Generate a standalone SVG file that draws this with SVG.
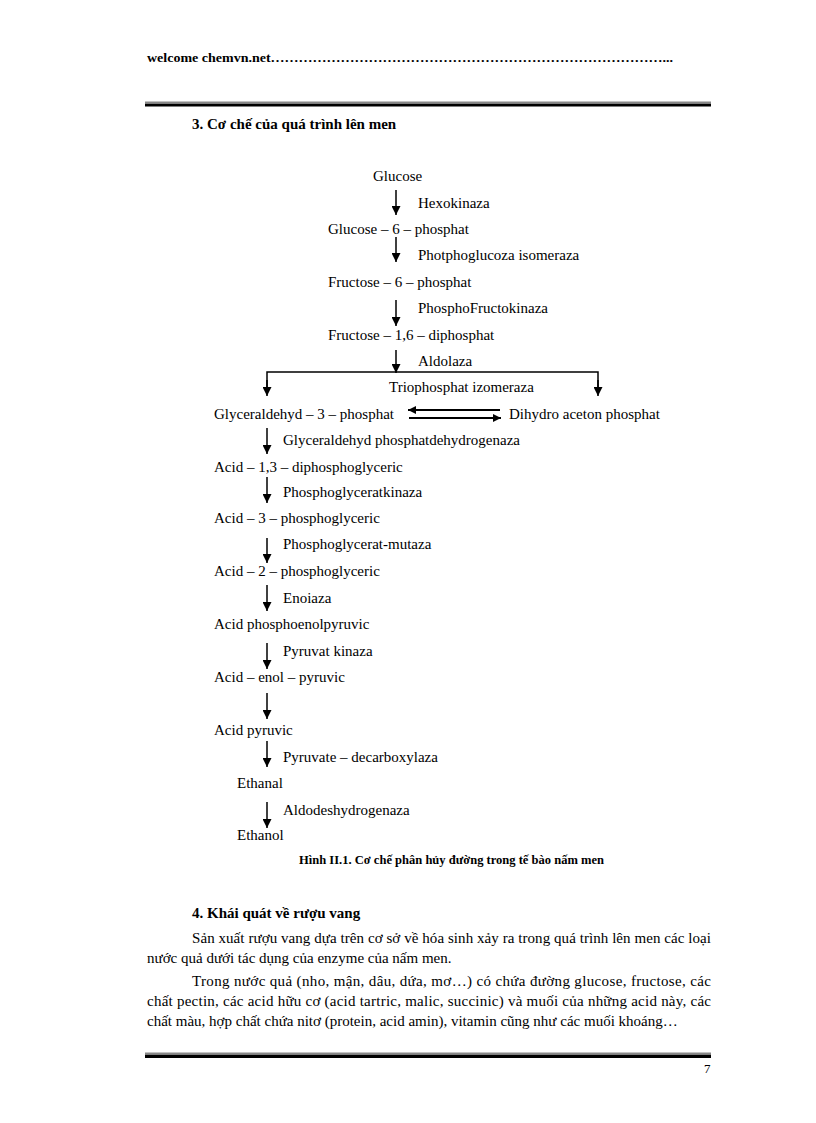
<svg xmlns="http://www.w3.org/2000/svg" width="816" height="1123" viewBox="0 0 816 1123">
<defs>
<style>
text{font-family:"Liberation Serif","Times New Roman",serif;fill:#000;}
.t{font-size:15px;}
.b{font-weight:bold;}
.ln{stroke:#000;stroke-width:1.5;fill:none;}
.ar{stroke:#000;stroke-width:1.5;fill:none;marker-end:url(#ah);}
.dar{stroke:#000;stroke-width:2;fill:none;marker-end:url(#ah2);}
</style>
<marker id="ah" viewBox="0 0 10 10" refX="10" refY="5" markerWidth="10" markerHeight="9" markerUnits="userSpaceOnUse" orient="auto"><path d="M0,0 L10,5 L0,10 z" fill="#000"/></marker>
<marker id="ah2" viewBox="0 0 10 10" refX="10" refY="5" markerWidth="11" markerHeight="8" markerUnits="userSpaceOnUse" orient="auto"><path d="M0,0 L10,5 L0,10 z" fill="#000"/></marker>
</defs>
<rect width="816" height="1123" fill="#fff"/>
<!-- header -->
<text x="147" y="62" class="b" font-size="13.5" textLength="526" lengthAdjust="spacingAndGlyphs">welcome chemvn.net…………………………………………………………………………...</text>
<rect x="145" y="101.5" width="566" height="1.5" fill="#888"/>
<rect x="145" y="103.5" width="566" height="3" fill="#000"/>
<text x="192" y="129" class="t b">3. Cơ chế của quá trình lên men</text>

<g id="connectors">
<line class="ar" x1="396" y1="190" x2="396" y2="215"/>
<line class="ar" x1="396" y1="237" x2="396" y2="262"/>
<line class="ar" x1="396" y1="300" x2="396" y2="326"/>
<line class="ar" x1="396" y1="350" x2="396" y2="373"/>
<polyline class="ln" points="267,390 267,372 598,372 598,390"/>
<line class="ar" x1="267" y1="380" x2="267" y2="396"/>
<line class="ar" x1="598" y1="380" x2="598" y2="396"/>
<line class="dar" x1="500" y1="410" x2="408" y2="410"/>
<line class="dar" x1="409" y1="418" x2="501" y2="418"/>
<line class="ar" x1="267" y1="428" x2="267" y2="454"/>
<line class="ar" x1="267" y1="477" x2="267" y2="503"/>
<line class="ar" x1="267" y1="538" x2="267" y2="563"/>
<line class="ar" x1="267" y1="585" x2="267" y2="611"/>
<line class="ar" x1="267" y1="643" x2="267" y2="669"/>
<line class="ar" x1="267" y1="693" x2="267" y2="719"/>
<line class="ar" x1="267" y1="741" x2="267" y2="767"/>
<line class="ar" x1="267" y1="802" x2="267" y2="828"/>
</g>

<g id="n-glucose"><text x="373" y="181" class="t">Glucose</text></g>
<g id="e-hexokinaza"><text x="418" y="208" class="t">Hexokinaza</text></g>
<g id="n-g6p"><text x="328" y="234" class="t">Glucose – 6 – phosphat</text></g>
<g id="e-pgi"><text x="418" y="260" class="t">Photphoglucoza isomeraza</text></g>
<g id="n-f6p"><text x="328" y="287" class="t">Fructose – 6 – phosphat</text></g>
<g id="e-pfk"><text x="418" y="313" class="t">PhosphoFructokinaza</text></g>
<g id="n-f16p"><text x="328" y="340" class="t">Fructose – 1,6 – diphosphat</text></g>
<g id="e-aldolaza"><text x="418" y="366" class="t">Aldolaza</text></g>
<g id="e-tpi"><text x="389" y="392" class="t">Triophosphat izomeraza</text></g>
<g id="n-g3p"><text x="214" y="419" class="t">Glyceraldehyd – 3 – phosphat</text></g>
<g id="n-dhap"><text x="509" y="419" class="t">Dihydro aceton phosphat</text></g>
<g id="e-gapdh"><text x="283" y="445" class="t">Glyceraldehyd phosphatdehydrogenaza</text></g>
<g id="n-13bpg"><text x="214" y="472" class="t">Acid – 1,3 – diphosphoglyceric</text></g>
<g id="e-pgk"><text x="283" y="497" class="t">Phosphoglyceratkinaza</text></g>
<g id="n-3pg"><text x="214" y="523" class="t">Acid – 3 – phosphoglyceric</text></g>
<g id="e-pgm"><text x="283" y="549" class="t">Phosphoglycerat-mutaza</text></g>
<g id="n-2pg"><text x="214" y="576" class="t">Acid – 2 – phosphoglyceric</text></g>
<g id="e-enolase"><text x="283" y="603" class="t">Enoiaza</text></g>
<g id="n-pep"><text x="214" y="629" class="t">Acid phosphoenolpyruvic</text></g>
<g id="e-pk"><text x="283" y="656" class="t">Pyruvat kinaza</text></g>
<g id="n-enolpyr"><text x="214" y="682" class="t">Acid – enol – pyruvic</text></g>
<g id="n-pyruvic"><text x="214" y="735" class="t">Acid pyruvic</text></g>
<g id="e-pdc"><text x="283" y="762" class="t">Pyruvate – decarboxylaza</text></g>
<g id="n-ethanal"><text x="237" y="788" class="t">Ethanal</text></g>
<g id="e-adh"><text x="283" y="815" class="t">Aldodeshydrogenaza</text></g>
<g id="n-ethanol"><text x="237" y="840" class="t">Ethanol</text></g>

<text x="299" y="864" class="b" font-size="13" textLength="305" lengthAdjust="spacingAndGlyphs">Hình II.1. Cơ chế phân hủy đường trong tế bào nấm men</text>

<text x="192" y="918" class="t b">4. Khái quát về rượu vang</text>
<text x="192" y="943" class="t" textLength="519" lengthAdjust="spacing">Sản xuất rượu vang dựa trên cơ sở về hóa sinh xảy ra trong quá trình lên men các loại</text>
<text x="147" y="963" class="t">nước quả dưới tác dụng của enzyme của nấm men.</text>
<text x="192" y="986" class="t" textLength="519" lengthAdjust="spacing">Trong nước quả (nho, mận, dâu, dứa, mơ…) có chứa đường glucose, fructose, các</text>
<text x="147" y="1006" class="t" textLength="564" lengthAdjust="spacing">chất pectin, các acid hữu cơ (acid tartric, malic, succinic) và muối của những acid này, các</text>
<text x="147" y="1026" class="t">chất màu, hợp chất chứa nitơ (protein, acid amin), vitamin cũng như các muối khoáng…</text>

<rect x="145" y="1052.5" width="566" height="1.5" fill="#888"/>
<rect x="145" y="1054.5" width="566" height="3.5" fill="#000"/>
<text x="704" y="1073" font-size="13">7</text>
</svg>
